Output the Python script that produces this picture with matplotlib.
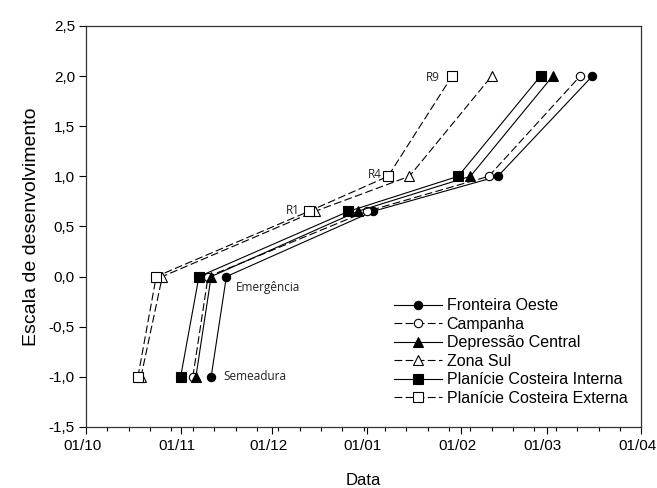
import matplotlib
matplotlib.use('Agg')
import matplotlib.pyplot as plt
import matplotlib.dates as mdates
import matplotlib.transforms as mtransforms
from matplotlib.ticker import FuncFormatter, FixedLocator
import numpy as np
from datetime import date, timedelta

plt.rcParams['font.family'] = ['Liberation Sans', 'DejaVu Sans']

# escala de desenvolvimento: semeadura, emergencia, R1, R4, R9
escala = [-1.0, 0.0, 0.65, 1.0, 2.0]

regioes = ['Fronteira Oeste', 'Campanha', 'Depressão Central', 'Zona Sul',
           'Planície Costeira Interna', 'Planície Costeira Externa']

fronteira = ['2012-11-11', '2012-11-16', '2013-01-03', '2013-02-13', '2013-03-16']
campanha = ['2012-11-05', '2012-11-10', '2013-01-01', '2013-02-10', '2013-03-12']
depressao = ['2012-11-06', '2012-11-11', '2012-12-29', '2013-02-04', '2013-03-03']
zona_sul = ['2012-10-19', '2012-10-26', '2012-12-15', '2013-01-15', '2013-02-11']
pc_interna = ['2012-11-01', '2012-11-07', '2012-12-26', '2013-01-31', '2013-02-27']
pc_externa = ['2012-10-18', '2012-10-24', '2012-12-13', '2013-01-08', '2013-01-29']

fases = ['Semeadura', 'Emergência', 'R1', 'R4', 'R9']

series = [fronteira, campanha, depressao, zona_sul, pc_interna, pc_externa]
marcadores = ['o', 'o', '^', '^', 's', 's']
cheio = [True, False, True, False, True, False]
estilos = ['-', (0, (7, 3)), '-', (0, (7, 3)), '-', (0, (7, 3))]

fig = plt.figure(figsize=(6.57, 4.88), dpi=100)
ax = fig.add_axes([0.131, 0.125, 0.845, 0.822])

for nome, datas, m, c, ls in zip(regioes, series, marcadores, cheio, estilos):
    x = [mdates.datestr2num(d) for d in datas]
    ax.plot(x, escala, linestyle=ls, color='black', linewidth=0.8,
            marker=m, markersize=6.5 if m != 'o' else 6,
            markerfacecolor='black' if c else 'white',
            markeredgecolor='black', markeredgewidth=0.8, label=nome)

# rotulos das fases
anot_font = dict(family=['Open Sans', 'DejaVu Sans'], fontsize=8.5, color='#222222')
ax.text(mdates.datestr2num('2012-11-15'), -1.0, fases[0], va='center', ha='left', **anot_font)
ax.text(mdates.datestr2num('2012-11-19'), -0.11, fases[1], va='center', ha='left', **anot_font)
ax.text(mdates.datestr2num('2012-12-10'), 0.66, fases[2], va='center', ha='right', **anot_font)
ax.text(mdates.datestr2num('2013-01-06'), 1.02, fases[3], va='center', ha='right', **anot_font)
ax.text(mdates.datestr2num('2013-01-25'), 1.99, fases[4], va='center', ha='right', **anot_font)

inicio = date(2012, 10, 1)
meses = [date(2012, 10, 1), date(2012, 11, 1), date(2012, 12, 1), date(2013, 1, 1),
         date(2013, 2, 1), date(2013, 3, 1), date(2013, 4, 1)]
ax.set_xlim(mdates.date2num(meses[0]), mdates.date2num(meses[-1]))
ax.xaxis.set_major_locator(FixedLocator([mdates.date2num(d) for d in meses]))
ax.xaxis.set_major_formatter(mdates.DateFormatter('%d/%m'))
semanas = [mdates.date2num(inicio + timedelta(days=7 * k)) for k in range(27)]
ax.xaxis.set_minor_locator(FixedLocator(semanas))

ax.set_ylim(-1.5, 2.5)
ax.set_yticks(np.arange(-1.5, 2.51, 0.5))
ax.yaxis.set_major_formatter(FuncFormatter(lambda v, p: f'{v:.1f}'.replace('.', ',')))

ax.tick_params(axis='both', which='major', direction='out', length=5, width=0.8,
               labelsize=11, colors='black')
ax.tick_params(axis='x', which='minor', direction='out', length=3, width=0.8)
ax.tick_params(axis='y', which='major', pad=3)
ax.tick_params(axis='x', which='major', pad=4)
for s in ax.spines.values():
    s.set_linewidth(0.9)
    s.set_color('#333333')

# rotulos do eixo x um pouco deslocados para a esquerda
desloc = mtransforms.ScaledTranslation(-4 / 100, 0, fig.dpi_scale_trans)
for lbl in ax.get_xticklabels():
    lbl.set_transform(lbl.get_transform() + desloc)

ax.set_xlabel('Data', fontsize=12, labelpad=14)
ax.set_ylabel('Escala de desenvolvimento', fontsize=14, labelpad=6)

ax.legend(loc='lower right', bbox_to_anchor=(0.995, 0.025), frameon=False,
          fontsize=11.5, handlelength=3.0, handletextpad=0.3, labelspacing=0.22,
          borderaxespad=0.3)

fig.savefig('out.png', dpi=100)
